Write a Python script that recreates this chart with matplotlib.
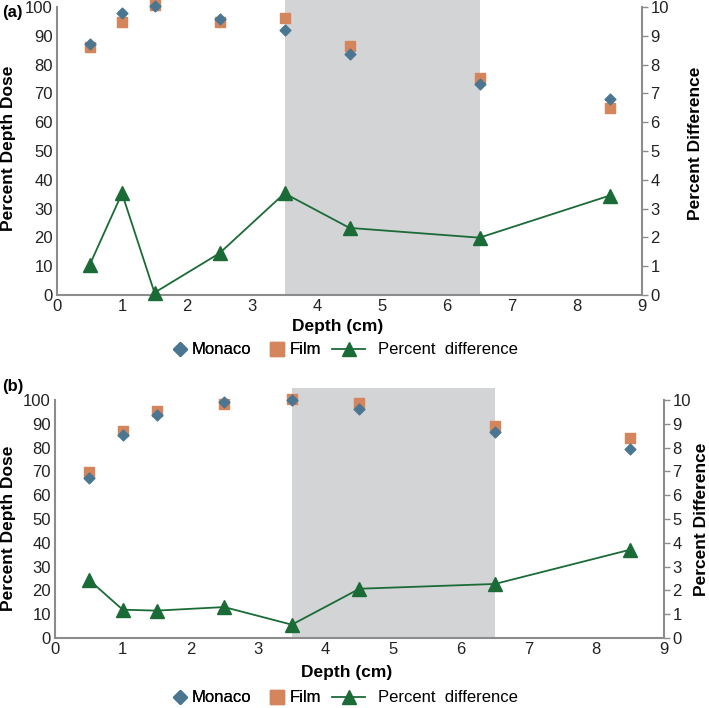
import numpy as np
import matplotlib.pyplot as plt
from matplotlib.lines import Line2D

plt.rcParams['font.family'] = ['Liberation Sans', 'DejaVu Sans']

depth = [0.5, 1, 1.5, 2.5, 3.5, 4.5, 6.5, 8.5]

monaco_a = [87.3, 97.9, 100.2, 96.0, 92.1, 83.8, 73.1, 68.2]
film_a = [86.1, 94.7, 100.6, 94.7, 96.2, 86.5, 75.4, 65.1]
diff_a = [1.03, 3.53, 0.08, 1.45, 3.53, 2.33, 1.99, 3.45]

monaco_b = [67.4, 85.3, 93.7, 99.3, 100.2, 96.2, 86.4, 79.4]
film_b = [69.9, 87.0, 95.5, 98.5, 100.3, 98.9, 89.2, 83.9]
diff_b = [2.45, 1.19, 1.15, 1.30, 0.56, 2.07, 2.27, 3.71]

shade = (3.5, 6.5)

c_monaco = '#4b7691'
c_film = '#d5855b'
c_diff = '#1b6b37'
c_spine = '#8c8c8c'

W, H = 709, 708
fig = plt.figure(figsize=(W / 100, H / 100), dpi=100)


def fx(px):
    return px / W


def fy(py):
    return 1 - py / H


def panel(rect, monaco, film, diff, tag, shade_top, tag_y, xlab, leg_y, lab_l, lab_r):
    ax = fig.add_axes(rect)
    ax2 = ax.twinx()
    ax.set_zorder(1)
    ax.patch.set_visible(False)
    ax2.set_zorder(2)
    ax2.patch.set_visible(False)

    ax.axvspan(shade[0], shade[1], ymin=0, ymax=shade_top, color='#d3d4d6',
               clip_on=False, zorder=0, lw=0)
    ax.scatter(depth, monaco, marker='D', s=30, color=c_monaco, zorder=3, clip_on=False)
    ax.scatter(depth, film, marker='s', s=60, color=c_film, zorder=2, clip_on=False)
    ax2.plot(depth, diff, color=c_diff, lw=1.3, marker='^', ms=10, clip_on=False)

    ax.set_xlim(0, 9)
    ax.set_ylim(0, 100)
    ax2.set_ylim(0, 10)
    ax.set_xticks(range(10))
    ax.set_yticks(range(0, 101, 10))
    ax2.set_yticks(range(11))

    for a in (ax, ax2):
        for s in a.spines.values():
            s.set_visible(False)
        a.tick_params(labelsize=12, colors='#222222')
    ax.spines['left'].set_visible(True)
    ax.spines['bottom'].set_visible(True)
    ax2.spines['right'].set_visible(True)
    for s in (ax.spines['left'], ax.spines['bottom'], ax2.spines['right']):
        s.set_color(c_spine)
        s.set_linewidth(1.5)
    ax.tick_params(axis='both', length=0, pad=3)
    ax2.tick_params(axis='y', length=4, width=1, color=c_spine, pad=2)

    # axis titles
    fig.text(fx(lab_l[0]), fy(lab_l[1]), 'Percent Depth Dose', rotation=90,
             fontsize=12.5, fontweight='bold', ha='center', va='center')
    fig.text(fx(lab_r[0]), fy(lab_r[1]), 'Percent Difference', rotation=90,
             fontsize=12.5, fontweight='bold', ha='center', va='center')
    fig.text(fx(xlab[0]), fy(xlab[1]), 'Depth (cm)', fontsize=12.5,
             fontweight='bold', ha='center', va='center')
    fig.text(0.003, fy(tag_y), tag, fontsize=12, fontweight='bold',
             ha='left', va='center')

    # legend: markers and line drawn in two groups
    h1 = [Line2D([], [], ls='none', marker='D', ms=7, color=c_monaco),
          Line2D([], [], ls='none', marker='s', ms=10, color=c_film)]
    leg1 = fig.legend(h1, ['Monaco', 'Film'], ncol=2, loc='center left',
                      bbox_to_anchor=(fx(172), fy(leg_y)), frameon=False,
                      fontsize=12, handlelength=0.9, columnspacing=1.1,
                      handletextpad=0.3, borderpad=0, borderaxespad=0)
    h2 = [Line2D([], [], color=c_diff, lw=1.3, marker='^', ms=10)]
    fig.legend(h2, ['Percent  difference'], loc='center left',
               bbox_to_anchor=(fx(332), fy(leg_y)), frameon=False,
               fontsize=12, handlelength=2.0, handletextpad=0.75,
               borderpad=0, borderaxespad=0)
    fig.add_artist(leg1)


panel([fx(57), fy(295), fx(642 - 57), (295 - 7) / H], monaco_a, film_a, diff_a,
      '(a)', 1.025, 12, (338, 326), 350, (9, 148), (695, 143))
panel([fx(55), fy(638), fx(664 - 55), (638 - 400) / H], monaco_b, film_b, diff_b,
      '(b)', 1.05, 386, (347, 672), 698, (9, 528), (701, 519))

fig.savefig('out.png', dpi=100)
